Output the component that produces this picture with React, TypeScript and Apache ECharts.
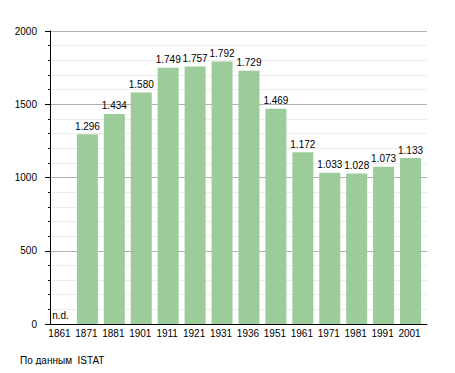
import React, { useEffect, useRef } from "react";
import * as echarts from "echarts";

const categories = ["1861", "1871", "1881", "1901", "1911", "1921", "1931", "1936", "1951", "1961", "1971", "1981", "1991", "2001"];
const population = [0, 1296, 1434, 1580, 1749, 1757, 1792, 1729, 1469, 1172, 1033, 1028, 1073, 1133];
const missing = [true, false, false, false, false, false, false, false, false, false, false, false, false, false];
const yTicks = { min: 0, max: 2000, interval: 500 };
const sourceNote = "По данным  ISTAT";

const fmt = (v: number) => {
  const s = String(Math.round(v));
  return s.length > 3 ? s.slice(0, s.length - 3) + "." + s.slice(s.length - 3) : s;
};

export default function App() {
  const ref = useRef<HTMLDivElement>(null);
  useEffect(() => {
    if (!ref.current) return;
    const chart = echarts.init(ref.current, undefined, { renderer: "svg" });
    const font = "'Liberation Sans', Arial, sans-serif";
    chart.setOption({
      animation: false,
      backgroundColor: "#ffffff",
      textStyle: { fontFamily: font },
      grid: { left: 50, right: 28, top: 31, bottom: 49, containLabel: false },
      xAxis: {
        type: "category",
        data: categories,
        boundaryGap: true,
        axisLine: { show: true, lineStyle: { color: "#000", width: 1 } },
        axisTick: { show: false },
        axisLabel: {
          color: "#000",
          fontSize: 10,
          fontFamily: font,
          margin: 4,
          interval: 0,
          align: "center",
          padding: [0, 8, 0, 0],
        },
        splitLine: { show: false },
      },
      yAxis: {
        type: "value",
        min: yTicks.min,
        max: yTicks.max,
        interval: yTicks.interval,
        axisLine: { show: true, lineStyle: { color: "#000", width: 1 } },
        axisTick: { show: true, length: 5, lineStyle: { color: "#000" } },
        minorTick: { show: true, splitNumber: 5, length: 2, lineStyle: { color: "#000" } },
        axisLabel: {
          color: "#000",
          fontSize: 10,
          fontFamily: font,
          margin: 13,
          formatter: (v: number) => String(v),
        },
        splitLine: { show: true, lineStyle: { color: "#b0b0b0", width: 1 } },
        minorSplitLine: { show: true, lineStyle: { color: "#ececec", width: 1 } },
      },
      series: [
        {
          type: "bar",
          barWidth: 21,
          barGap: 0,
          data: population.map((v, i) => ({
            value: v,
            label: missing[i]
              ? { show: true, position: "top", distance: 4, formatter: "n.d.", color: "#000", fontSize: 10, fontFamily: font }
              : undefined,
          })),
          itemStyle: { color: "#9ccc9a" },
          label: {
            show: true,
            position: "top",
            distance: 3,
            color: "#000",
            fontSize: 10,
            fontFamily: font,
            formatter: (p: any) => fmt(p.value),
          },
        },
        {
          type: "bar",
          barWidth: 6,
          barGap: 0,
          data: categories.map(() => null),
          itemStyle: { color: "transparent" },
          silent: true,
        },
      ],
      graphic: [
        {
          type: "text",
          left: 20,
          top: 355,
          style: { text: sourceNote, fill: "#000", fontSize: 10, fontFamily: font },
        },
      ],
    });
    return () => chart.dispose();
  }, []);
  return <div ref={ref} style={{ width: 455, height: 373, margin: -8 }} />;
}
